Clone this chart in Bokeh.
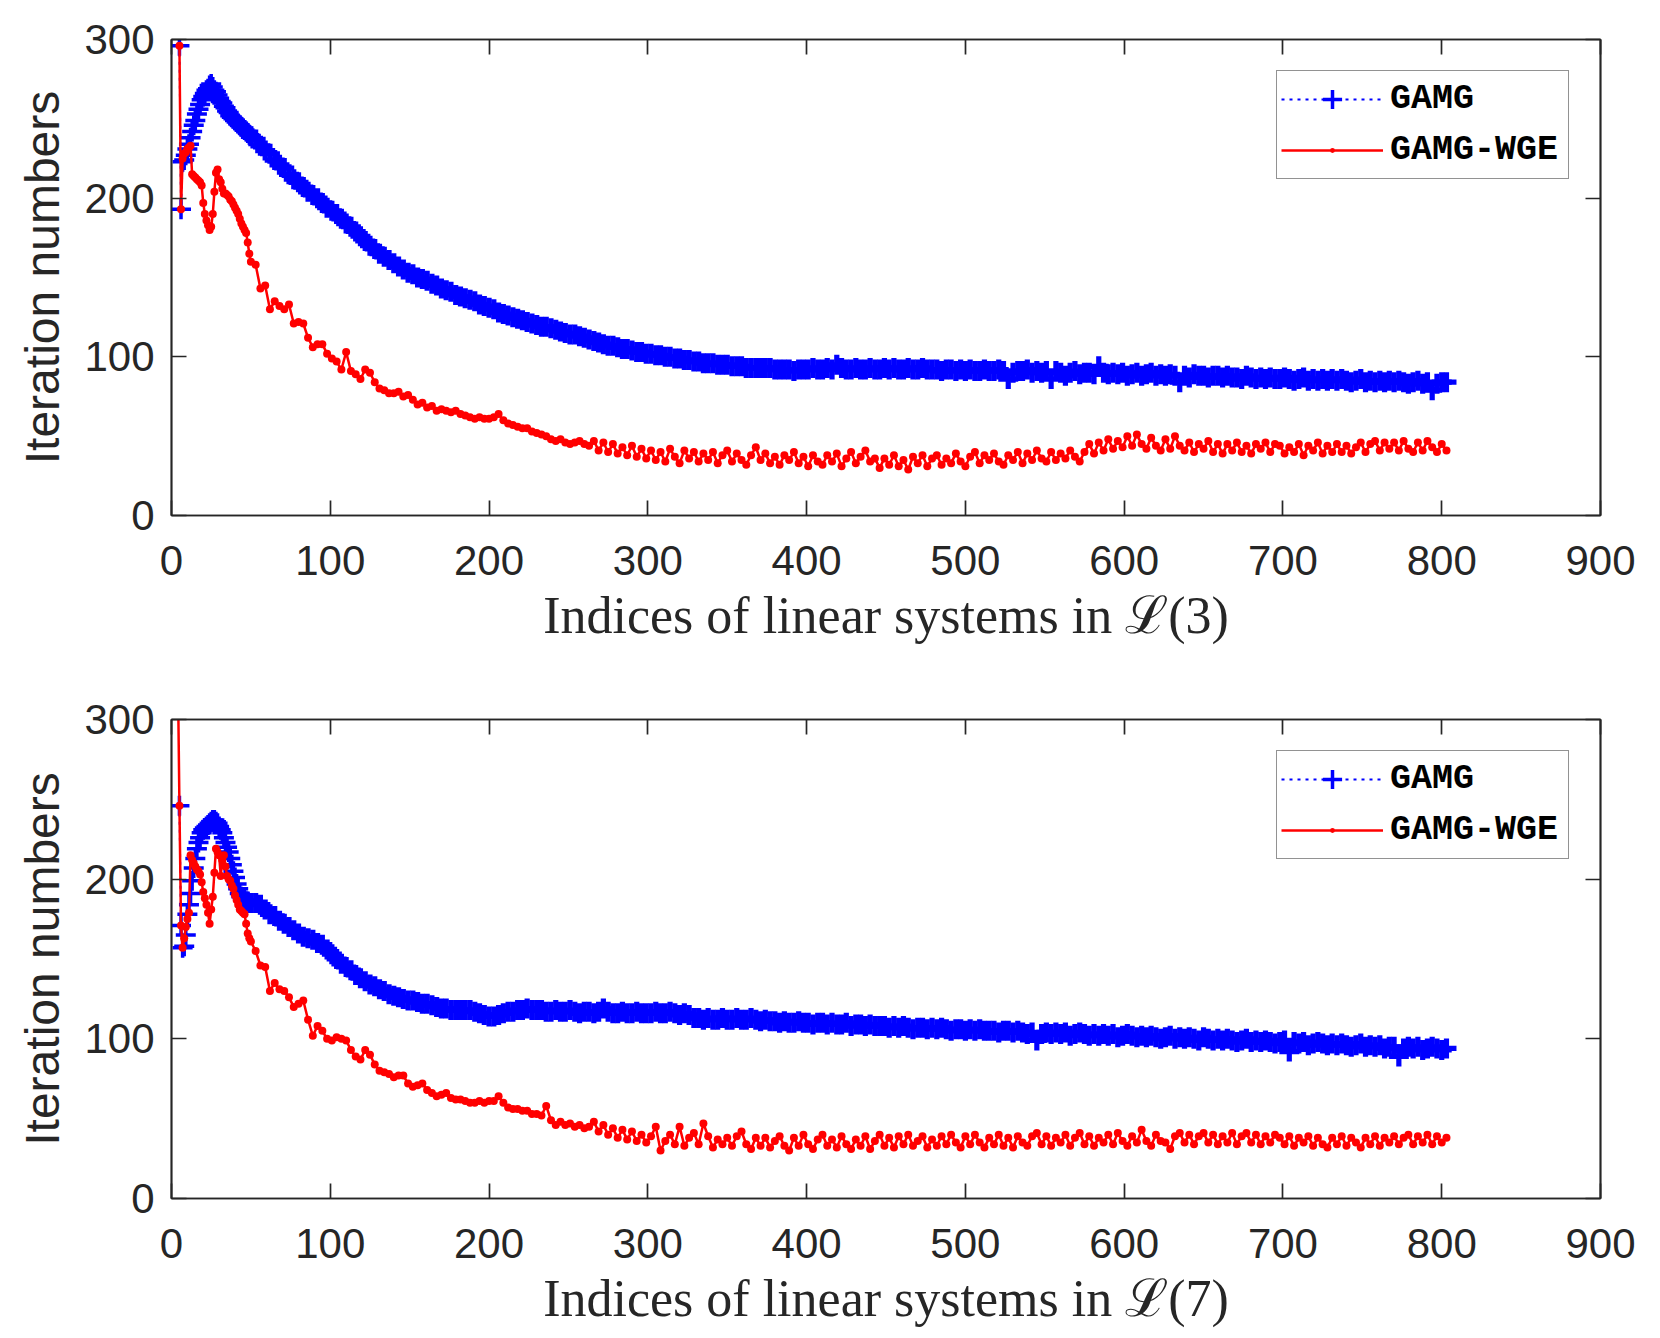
from bokeh.plotting import figure
from bokeh.models import FixedTicker, LinearAxis, Range1d, Legend, LegendItem
from bokeh.layouts import column
from bokeh.embed import file_html
from bokeh.resources import INLINE

# ---------------- data ----------------
x_tick_values = [0, 100, 200, 300, 400, 500, 600, 700, 800, 900]
y_tick_values = [0, 100, 200, 300]

idx_late = list(range(50, 804, 3))          # indices 50, 53, ..., 803
idx_early_p1 = list(range(5, 50))           # indices 5..49
idx_early_p2_gamg = list(range(5, 50))      # indices 5..49
idx_early_p2_wge = list(range(4, 50))       # indices 4..49

# L(3): GAMG
p1_gamg_early = [296, 193, 223, 224, 227, 231, 234, 238, 242, 246, 249, 253, 256, 259, 262,
                 264, 266, 268, 269, 271, 272, 270, 268, 267, 265, 263, 261, 260, 258, 257,
                 255, 254, 252, 251, 250, 249, 248, 247, 246, 245, 244, 243, 242, 241, 240]
p1_gamg_late = [
    239, 237, 233, 230, 228, 224, 221, 219, 215, 212, 210, 207,
    204, 202, 200, 197, 194, 192, 190, 187, 184, 182, 179, 176,
    173, 170, 168, 165, 163, 161, 159, 157, 155, 153, 152, 150,
    149, 148, 146, 145, 143, 142, 141, 139, 138, 137, 136, 135,
    133, 132, 131, 130, 128, 127, 126, 125, 124, 123, 122, 121,
    120, 119, 119, 118, 117, 116, 115, 114, 114, 113, 112, 111,
    110, 109, 108, 107, 107, 106, 105, 105, 104, 103, 103, 102,
    102, 101, 101, 100, 100, 99, 99, 98, 98, 97, 97, 96,
    96, 96, 95, 95, 95, 94, 94, 94, 93, 93, 93, 93,
    93, 93, 92, 92, 92, 92, 91, 92, 92, 92, 93, 92,
    92, 93, 92, 95, 93, 92, 92, 93, 92, 92, 93, 92,
    92, 93, 92, 93, 92, 92, 93, 92, 92, 93, 92, 92,
    92, 91, 92, 92, 91, 92, 91, 92, 91, 91, 92, 91,
    91, 92, 91, 86, 90, 91, 91, 92, 90, 91, 90, 91,
    86, 91, 90, 88, 90, 91, 89, 90, 90, 89, 94, 90,
    89, 90, 89, 90, 88, 89, 90, 88, 89, 90, 88, 89,
    88, 89, 88, 84, 88, 87, 89, 88, 88, 87, 88, 88,
    87, 88, 87, 87, 86, 88, 87, 86, 87, 86, 87, 86,
    86, 87, 86, 85, 86, 87, 85, 86, 85, 86, 85, 86,
    85, 86, 85, 84, 85, 86, 84, 85, 84, 85, 84, 85,
    84, 85, 84, 83, 84, 85, 83, 84, 79, 83, 84, 84]

# L(3): GAMG-WGE
p1_wge_early = [296, 193, 225, 228, 229, 231, 232, 233, 215, 214, 213, 212, 211, 210, 208,
                197, 190, 186, 183, 180, 182, 190, 204, 216, 218, 212, 210, 206, 203, 203,
                202, 201, 199, 198, 196, 194, 192, 190, 187, 184, 182, 180, 178, 172, 165]
p1_wge_late = [
    160, 158, 143, 145, 130, 135, 132, 130, 133, 121, 122, 121,
    112, 106, 108, 108, 102, 99, 97, 92, 103, 91, 89, 86,
    92, 90, 84, 80, 79, 77, 77, 78, 75, 76, 73, 70,
    71, 68, 69, 66, 67, 66, 65, 66, 64, 63, 62, 61,
    62, 61, 61, 62, 64, 60, 58, 57, 56, 55, 55, 53,
    52, 51, 50, 48, 47, 48, 46, 45, 46, 47, 45, 44,
    47, 41, 46, 40, 45, 39, 43, 38, 44, 37, 42, 36,
    41, 35, 40, 34, 42, 37, 33, 41, 36, 40, 34, 39,
    35, 40, 33, 38, 41, 34, 39, 35, 32, 38, 43, 35,
    39, 33, 37, 32, 38, 35, 40, 33, 37, 31, 38, 34,
    32, 38, 34, 39, 31, 36, 40, 33, 37, 41, 34, 36,
    30, 36, 32, 38, 31, 35, 29, 37, 33, 38, 31, 36,
    38, 32, 36, 33, 39, 34, 31, 37, 40, 33, 38, 35,
    39, 34, 32, 38, 35, 40, 33, 39, 35, 41, 36, 34,
    40, 35, 39, 36, 41, 37, 34, 40, 45, 39, 46, 41,
    48, 42, 47, 43, 50, 44, 51, 45, 42, 49, 44, 41,
    48, 42, 50, 44, 41, 46, 40, 45, 42, 47, 40, 45,
    39, 45, 41, 46, 40, 44, 39, 45, 42, 46, 40, 45,
    44, 39, 43, 40, 45, 38, 44, 41, 46, 39, 44, 40,
    45, 40, 44, 39, 43, 46, 40, 45, 47, 41, 46, 42,
    46, 41, 47, 42, 40, 46, 41, 47, 43, 40, 45, 41]

# L(7): GAMG
p2_gamg_early = [246, 171, 157, 158, 165, 178, 184, 191, 199, 207, 213, 219, 223, 226, 229,
                 231, 232, 233, 234, 235, 236, 237, 237, 236, 235, 233, 231, 229, 226, 223,
                 220, 217, 213, 209, 205, 201, 197, 194, 191, 189, 188, 187, 186, 186, 185]
p2_gamg_late = [
    185, 185, 184, 181, 178, 177, 174, 172, 170, 168, 166, 164,
    163, 162, 160, 159, 156, 153, 150, 147, 145, 143, 140, 138,
    136, 134, 133, 131, 130, 128, 127, 126, 125, 124, 124, 123,
    122, 122, 121, 120, 119, 119, 118, 118, 118, 118, 118, 117,
    116, 115, 114, 114, 115, 116, 117, 117, 118, 118, 119, 118,
    118, 118, 117, 117, 118, 117, 117, 118, 117, 116, 117, 117,
    116, 117, 119, 117, 116, 116, 117, 116, 116, 117, 116, 116,
    116, 117, 116, 116, 117, 116, 115, 116, 115, 113, 113, 112,
    113, 112, 112, 113, 112, 112, 113, 112, 112, 113, 112, 111,
    112, 111, 111, 110, 111, 110, 110, 111, 110, 110, 109, 110,
    110, 109, 110, 109, 109, 110, 108, 109, 109, 108, 109, 108,
    108, 108, 107, 108, 107, 108, 107, 106, 107, 107, 106, 107,
    106, 107, 106, 105, 106, 106, 105, 106, 105, 106, 105, 105,
    105, 104, 105, 105, 104, 105, 104, 103, 104, 99, 103, 104,
    103, 104, 103, 104, 102, 103, 104, 103, 102, 103, 102, 103,
    102, 103, 101, 102, 103, 102, 101, 102, 101, 102, 101, 100,
    101, 102, 100, 101, 100, 101, 100, 99, 101, 100, 99, 100,
    99, 100, 99, 98, 99, 100, 98, 99, 98, 99, 98, 97,
    98, 99, 92, 98, 97, 98, 96, 97, 98, 97, 96, 97,
    96, 97, 96, 95, 96, 97, 95, 96, 95, 96, 94, 95,
    95, 89, 94, 95, 94, 95, 93, 94, 95, 94, 93, 94]

# L(7): GAMG-WGE
p2_wge_early = [330, 246, 171, 157, 163, 170, 175, 179, 215, 212, 210, 208, 206, 205, 203,
                198, 192, 188, 184, 179, 172, 181, 189, 204, 219, 217, 215, 202, 212, 215,
                208, 202, 200, 199, 196, 194, 190, 187, 184, 181, 180, 179, 178, 172, 166, 163]
p2_wge_late = [
    161, 155, 146, 145, 130, 135, 131, 130, 126, 120, 122, 124,
    112, 102, 108, 105, 100, 99, 101, 100, 99, 93, 89, 87,
    93, 90, 84, 80, 79, 78, 76, 77, 77, 72, 70, 71,
    72, 68, 66, 64, 65, 66, 63, 62, 62, 61, 60, 60,
    61, 60, 61, 61, 64, 60, 57, 56, 56, 55, 55, 53,
    53, 52, 58, 49, 46, 48, 46, 47, 45, 46, 44, 45,
    48, 42, 46, 40, 44, 38, 43, 37, 42, 36, 40, 35,
    39, 45, 30, 36, 40, 34, 45, 33, 38, 41, 34, 47,
    39, 32, 37, 34, 38, 33, 39, 42, 34, 31, 38, 33,
    38, 32, 36, 39, 33, 30, 38, 33, 40, 34, 31, 37,
    40, 33, 37, 32, 39, 34, 31, 37, 33, 39, 31, 36,
    40, 33, 38, 32, 39, 34, 40, 33, 36, 39, 32, 37,
    33, 39, 34, 40, 35, 32, 39, 34, 40, 35, 32, 38,
    34, 40, 33, 38, 32, 39, 35, 33, 39, 41, 34, 39,
    33, 38, 35, 40, 33, 38, 41, 34, 39, 33, 38, 35,
    40, 34, 41, 36, 33, 39, 35, 43, 36, 33, 40, 36,
    35, 31, 39, 41, 35, 40, 34, 39, 41, 35, 40, 34,
    39, 35, 41, 34, 39, 41, 35, 40, 34, 39, 35, 40,
    38, 34, 39, 33, 38, 35, 39, 33, 38, 34, 32, 38,
    34, 39, 33, 38, 35, 32, 38, 34, 39, 33, 38, 35,
    39, 34, 38, 40, 34, 39, 35, 40, 34, 39, 35, 38]

labels = ["GAMG", "GAMG-WGE"]
x_titles = ["Indices of linear systems in \u2112(3)", "Indices of linear systems in \u2112(7)"]
y_title = "Iteration numbers"

AX = "#262626"


def pair(xs, ys):
    n = min(len(xs), len(ys))
    return xs[:n], ys[:n]


def make_fig(frame_h, top_border, bottom_border, xtitle, gx_e, gy_e, gx_l, gy_l, rx, ry):
    p = figure(frame_width=1429, frame_height=frame_h,
               x_range=Range1d(0, 900), y_range=Range1d(0, 300),
               output_backend="svg", toolbar_location=None,
               min_border_left=171, min_border_right=44,
               min_border_top=top_border, min_border_bottom=bottom_border)
    p.background_fill_color = "white"
    p.border_fill_color = "white"
    p.grid.visible = False
    p.outline_line_color = AX
    p.outline_line_width = 1.7

    p.xaxis.ticker = FixedTicker(ticks=x_tick_values)
    p.yaxis.ticker = FixedTicker(ticks=y_tick_values)
    for ax in (p.xaxis[0], p.yaxis[0]):
        ax.axis_line_color = AX
        ax.axis_line_width = 1.7
        ax.major_tick_line_color = AX
        ax.major_tick_line_width = 1.7
        ax.major_tick_in = 15
        ax.major_tick_out = 0
        ax.minor_tick_line_color = None
        ax.major_label_text_font = "Liberation Sans"
        ax.major_label_text_font_size = "42px"
        ax.major_label_text_color = AX
    p.xaxis.major_label_standoff = 30
    p.yaxis.major_label_standoff = 17

    p.xaxis.axis_label = xtitle
    p.xaxis.axis_label_text_font = "Liberation Serif"
    p.xaxis.axis_label_text_font_size = "52px"
    p.xaxis.axis_label_text_font_style = "normal"
    p.xaxis.axis_label_text_color = AX
    p.xaxis.axis_label_standoff = 9

    p.yaxis.axis_label = y_title
    p.yaxis.axis_label_text_font = "Liberation Sans"
    p.yaxis.axis_label_text_font_size = "48px"
    p.yaxis.axis_label_text_font_style = "normal"
    p.yaxis.axis_label_text_color = AX
    p.yaxis.axis_label_standoff = 12

    # box ticks on top and right
    top = LinearAxis(ticker=FixedTicker(ticks=x_tick_values),
                     major_label_overrides={t: "" for t in x_tick_values})
    right = LinearAxis(ticker=FixedTicker(ticks=y_tick_values),
                       major_label_overrides={t: "" for t in y_tick_values})
    for ax in (top, right):
        ax.axis_line_color = AX
        ax.axis_line_width = 1.7
        ax.major_tick_line_color = AX
        ax.major_tick_line_width = 1.7
        ax.major_tick_in = 15
        ax.major_tick_out = 0
        ax.minor_tick_line_color = None
        ax.major_label_standoff = 0
        ax.major_label_text_font_size = "1px"
    p.add_layout(top, "above")
    p.add_layout(right, "right")

    gx = gx_e + gx_l
    gy = gy_e + gy_l
    bl = p.line(gx, gy, line_color="#0000FF", line_width=2, line_dash="3 5")
    bs_e = p.scatter(gx_e, gy_e, marker="cross", size=20, line_color="#0000FF", line_width=3.5)
    p.scatter(gx_l, gy_l, marker="cross", size=20, line_color="#0000FF", line_width=5.2)
    rl = p.line(rx, ry, line_color="#FF0000", line_width=2.5)
    rd = p.scatter(rx, ry, marker="dot", size=21, line_color="#FF0000", fill_color="#FF0000")
    p.scatter(rx, ry, marker="circle", size=8, line_color=None, fill_color="#FF0000")

    legend = Legend(items=[LegendItem(label=labels[0], renderers=[bl, bs_e]),
                           LegendItem(label=labels[1], renderers=[rl, rd])],
                    location="top_right", margin=31,
                    glyph_width=102, glyph_height=48, label_height=48, label_width=174,
                    spacing=3, padding=4, label_standoff=7,
                    label_text_font="Liberation Mono", label_text_font_style="bold",
                    label_text_font_size="35px", label_text_color="black",
                    border_line_color=AX, border_line_width=1.7,
                    background_fill_color="white", background_fill_alpha=1.0)
    p.add_layout(legend)
    return p


g1xe, g1ye = pair(idx_early_p1, p1_gamg_early)
g1xl, g1yl = pair(idx_late, p1_gamg_late)
r1x, r1y = pair(idx_early_p1 + idx_late, p1_wge_early + p1_wge_late)
g2xe, g2ye = pair(idx_early_p2_gamg, p2_gamg_early)
g2xl, g2yl = pair(idx_late, p2_gamg_late)
r2x, r2y = pair(idx_early_p2_wge + idx_late, p2_wge_early + p2_wge_late)

p1 = make_fig(476, 39, 165, x_titles[0], g1xe, g1ye, g1xl, g1yl, r1x, r1y)
p2 = make_fig(479, 39, 124, x_titles[1], g2xe, g2ye, g2xl, g2yl, r2x, r2y)

layout = column(p1, p2, spacing=0)
open("out.html", "w").write(file_html(layout, INLINE))
